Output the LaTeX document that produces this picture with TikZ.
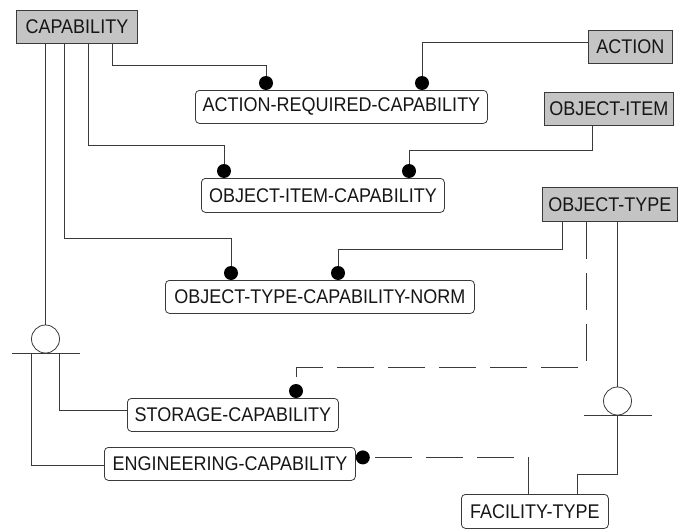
\documentclass[tikz,border=0pt]{standalone}
\usepackage{fontspec}
\setmainfont{Liberation Sans}
\definecolor{linec}{HTML}{3A3A3A}
\definecolor{boxgrey}{HTML}{C4C4C4}
\definecolor{textc}{HTML}{161616}
\newcommand\lbl[1]{\scalebox{1}[1.1]{#1}}
\begin{document}
\begin{tikzpicture}[x=1pt,y=-1pt,line width=0.8pt,
  ent/.style={draw=linec, rounded corners=4pt, inner sep=0pt, anchor=north west,
    font=\fontsize{18}{20}\selectfont, text=textc},
  kbox/.style={ent, fill=boxgrey, sharp corners},
  conn/.style={draw=linec},
  dconn/.style={draw=linec, dash pattern=on 37pt off 14pt},
  dotf/.style={fill=black},
  ring/.style={circle, draw=linec, minimum size=28pt, inner sep=0pt}]
\useasboundingbox (0,0) rectangle (678,530);

% entities
\node[kbox, minimum width=121pt, minimum height=33pt] (cap) at (16,10) {\lbl{CAPABILITY}};
\node[kbox, minimum width=84pt, minimum height=33pt] (action) at (588,30) {\lbl{ACTION}};
\node[ent, minimum width=292pt, minimum height=33pt] (arc) at (195,90) {\lbl{ACTION-REQUIRED-CAPABILITY}};
\node[kbox, minimum width=129pt, minimum height=33pt] (oitem) at (544,92) {\lbl{OBJECT-ITEM}};
\node[ent, minimum width=243pt, minimum height=34pt] (oic) at (201,178) {\lbl{OBJECT-ITEM-CAPABILITY}};
\node[kbox, minimum width=135pt, minimum height=34pt] (otype) at (542,187) {\lbl{OBJECT-TYPE}};
\node[ent, minimum width=309pt, minimum height=33pt] (otcn) at (165,280) {\lbl{OBJECT-TYPE-CAPABILITY-NORM}};
\node[ent, minimum width=211pt, minimum height=33pt] (sto) at (127,398) {\lbl{STORAGE-CAPABILITY}};
\node[ent, minimum width=251pt, minimum height=33pt] (eng) at (104,447) {\lbl{ENGINEERING-CAPABILITY}};
\node[ent, minimum width=147pt, minimum height=34pt] (ftype) at (461,494) {\lbl{FACILITY-TYPE}};

% subtype circles
\node[ring] (c1) at (45.5,339) {};
\node[ring] (c2) at (617.5,401) {};
\draw[conn] ([xshift=-34pt]c1.south) -- ([xshift=34pt]c1.south);
\draw[conn] ([xshift=-34pt]c2.south) -- ([xshift=34pt]c2.south);

% CAPABILITY -> ACTION-REQUIRED-CAPABILITY
\draw[conn] ([xshift=96pt]cap.south west) |- ([xshift=71pt,yshift=25pt]arc.north west) -- ([xshift=71pt]arc.north west);
\fill[dotf] ([xshift=71pt,yshift=7pt]arc.north west) circle[radius=7pt];
% ACTION -> ACTION-REQUIRED-CAPABILITY
\draw[conn] ([yshift=4.5pt]action.west) -| ([xshift=227pt]arc.north west);
\fill[dotf] ([xshift=227pt,yshift=7pt]arc.north west) circle[radius=7pt];

% CAPABILITY -> OBJECT-ITEM-CAPABILITY
\draw[conn] ([xshift=72pt]cap.south west) |- ([xshift=23pt,yshift=33pt]oic.north west) -- ([xshift=23pt]oic.north west);
\fill[dotf] ([xshift=23pt,yshift=7pt]oic.north west) circle[radius=7pt];
% OBJECT-ITEM -> OBJECT-ITEM-CAPABILITY
\draw[conn] ([xshift=48pt]oitem.south west) |- ([xshift=208pt,yshift=28pt]oic.north west) -- ([xshift=208pt]oic.north west);
\fill[dotf] ([xshift=208pt,yshift=7pt]oic.north west) circle[radius=7pt];

% CAPABILITY -> OBJECT-TYPE-CAPABILITY-NORM
\draw[conn] ([xshift=48pt]cap.south west) |- ([xshift=66pt,yshift=42pt]otcn.north west) -- ([xshift=66pt]otcn.north west);
\fill[dotf] ([xshift=66pt,yshift=7pt]otcn.north west) circle[radius=7pt];
% OBJECT-TYPE -> OBJECT-TYPE-CAPABILITY-NORM
\draw[conn] ([xshift=20pt]otype.south west) |- ([xshift=173pt,yshift=31pt]otcn.north west) -- ([xshift=173pt]otcn.north west);
\fill[dotf] ([xshift=173pt,yshift=7pt]otcn.north west) circle[radius=7pt];

% OBJECT-TYPE -> STORAGE-CAPABILITY (dashed)
\draw[dconn] ([xshift=44pt]otype.south west) |- ([xshift=169pt,yshift=31pt]sto.north west) -- ([xshift=169pt]sto.north west);
\fill[dotf] ([xshift=169pt,yshift=7pt]sto.north west) circle[radius=7pt];

% CAPABILITY subtypes
\draw[conn] ([xshift=29.5pt]cap.south west) -- (c1.north);
\draw[conn] ([xshift=-14.5pt]c1.south) |- ([yshift=-1.5pt]eng.west);
\draw[conn] ([xshift=13.5pt]c1.south) |- ([yshift=4.5pt]sto.west);

% OBJECT-TYPE subtype
\draw[conn] ([xshift=75.5pt]otype.south west) -- (c2.north);
\draw[conn] (c2.south) |- ([xshift=116pt,yshift=20pt]ftype.north west) -- ([xshift=116pt]ftype.north west);

% FACILITY-TYPE -> ENGINEERING-CAPABILITY (dashed)
\draw[dconn] ([xshift=67pt]ftype.north west) |- ([xshift=7pt,yshift=6.5pt]eng.east);
\fill[dotf] ([xshift=7pt,yshift=6.5pt]eng.east) circle[radius=7pt];
\end{tikzpicture}
\end{document}
